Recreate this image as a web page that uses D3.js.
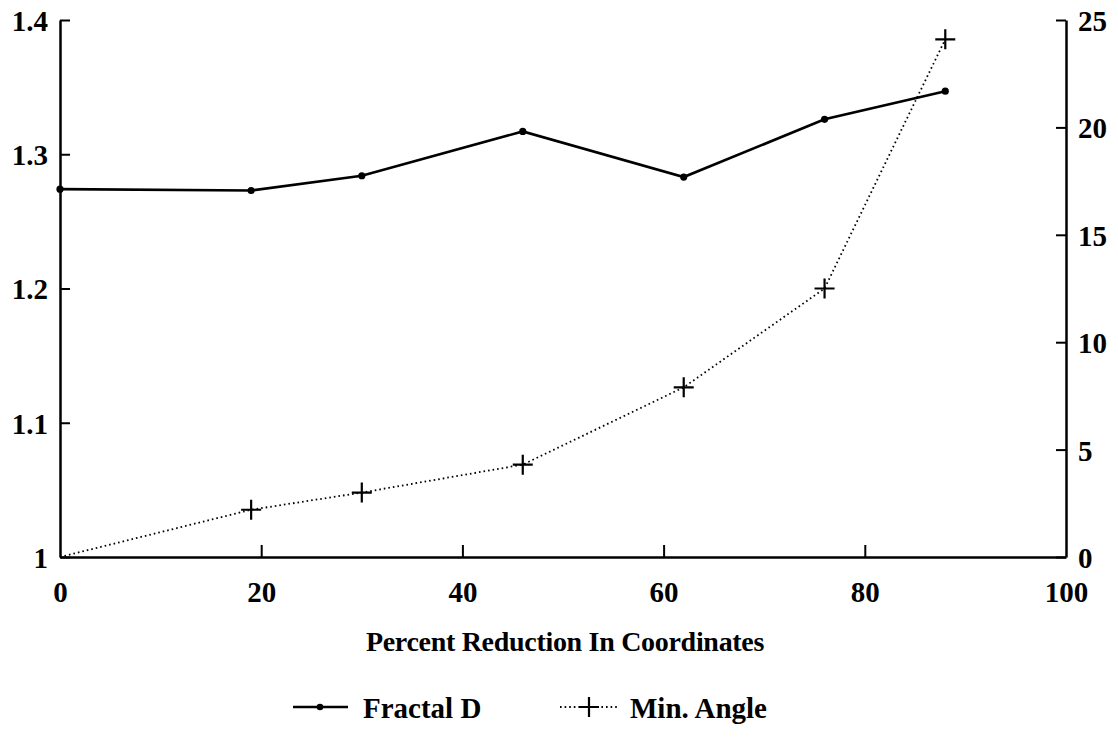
<!DOCTYPE html>
<html>
<head>
<meta charset="utf-8">
<script src="https://cdn.jsdelivr.net/npm/d3@7"></script>
<style>
  html, body { margin: 0; padding: 0; background: #fff; }
  svg text { font-family: "Liberation Serif", "Times New Roman", serif; font-weight: bold; fill: #000; }
</style>
</head>
<body>
<svg id="chart" width="1118" height="742"></svg>
<script>
// Percent reduction in coordinates (x) and the two measured series
const reduction = [0, 19, 30, 46, 62, 76, 88];
const fractalD = [1.274, 1.273, 1.284, 1.317, 1.283, 1.326, 1.347];
const minAngle = [0, 2.2, 3.0, 4.3, 7.9, 12.5, 24.1];

const xTicks = [0, 20, 40, 60, 80, 100];
const leftTicks = [1, 1.1, 1.2, 1.3, 1.4];
const rightTicks = [0, 5, 10, 15, 20, 25];

const xTitle = "Percent Reduction In Coordinates";
const seriesNames = ["Fractal D", "Min. Angle"];

const svg = d3.select("#chart");
const m = { left: 60, right: 1066, top: 20, bottom: 557 };

const x = d3.scaleLinear().domain([0, 100]).range([m.left, m.right]);
const yL = d3.scaleLinear().domain([1, 1.4]).range([m.bottom, m.top]);
const yR = d3.scaleLinear().domain([0, 25]).range([m.bottom, m.top]);

const fmtL = d => (d === 1 ? "1" : d3.format(".1f")(d));

// Bottom axis: ticks point up into the plot
const gx = svg.append("g").attr("transform", `translate(0,${m.bottom})`)
  .call(d3.axisBottom(x).tickValues(xTicks).tickSizeInner(-12).tickSizeOuter(0).tickPadding(24));
// Left axis: ticks point right into the plot
const gl = svg.append("g").attr("transform", `translate(${m.left},0)`)
  .call(d3.axisLeft(yL).tickValues(leftTicks).tickFormat(fmtL).tickSizeInner(-10).tickSizeOuter(0).tickPadding(12));
// Right axis: ticks point left into the plot
const gr = svg.append("g").attr("transform", `translate(${m.right},0)`)
  .call(d3.axisRight(yR).tickValues(rightTicks).tickSizeInner(-10).tickSizeOuter(0).tickPadding(12));

[gx, gl, gr].forEach(g => {
  g.select(".domain").attr("stroke", "#000").attr("stroke-width", 2.5);
  g.selectAll(".tick line").attr("stroke", "#000").attr("stroke-width", 2);
  g.selectAll(".tick text").style("font-size", "29px");
});
gx.selectAll(".tick").filter(d => d === 0 || d === 100).select("line").remove();
gl.selectAll(".tick text").attr("dy", "0.36em");
gr.selectAll(".tick text").attr("dy", "0.36em");

// X axis title
svg.append("text").attr("x", 565).attr("y", 651)
  .attr("text-anchor", "middle").style("font-size", "28px").style("letter-spacing", "-0.3px").text(xTitle);

const ptsD = reduction.map((r, i) => [r, fractalD[i]]);
const ptsA = reduction.map((r, i) => [r, minAngle[i]]);

// Min. Angle: dotted line with plus markers
svg.append("path").datum(ptsA)
  .attr("fill", "none").attr("stroke", "#000").attr("stroke-width", 1.8)
  .attr("stroke-dasharray", "1.6,3").attr("stroke-linecap", "butt")
  .attr("d", d3.line().x(d => x(d[0])).y(d => yR(d[1])));
const plus = (g, cx, cy, s) => {
  g.append("path").attr("d", `M${cx - s},${cy}H${cx + s}M${cx},${cy - s}V${cy + s}`)
    .attr("stroke", "#000").attr("stroke-width", 2.2).attr("fill", "none");
};
ptsA.slice(1).forEach(d => plus(svg, x(d[0]), yR(d[1]), 10));

// Fractal D: solid line with dot markers
svg.append("path").datum(ptsD)
  .attr("fill", "none").attr("stroke", "#000").attr("stroke-width", 2.6)
  .attr("d", d3.line().x(d => x(d[0])).y(d => yL(d[1])));
svg.selectAll("circle.fd").data(ptsD).enter().append("circle")
  .attr("class", "fd").attr("cx", d => x(d[0])).attr("cy", d => yL(d[1])).attr("r", 3.6).attr("fill", "#000");

// Legend
const ly = 707;
const lg = svg.append("g");
lg.append("line").attr("x1", 293).attr("x2", 348).attr("y1", ly).attr("y2", ly)
  .attr("stroke", "#000").attr("stroke-width", 2.6);
lg.append("circle").attr("cx", 320).attr("cy", ly).attr("r", 3.3).attr("fill", "#000");
lg.append("text").attr("x", 363).attr("y", ly + 11).style("font-size", "29px").text(seriesNames[0]);
lg.append("line").attr("x1", 560).attr("x2", 618).attr("y1", ly).attr("y2", ly)
  .attr("stroke", "#000").attr("stroke-width", 1.8).attr("stroke-dasharray", "1.6,3");
plus(lg, 589, ly, 10);
lg.append("text").attr("x", 630).attr("y", ly + 11).style("font-size", "29px").text(seriesNames[1]);
</script>
</body>
</html>
